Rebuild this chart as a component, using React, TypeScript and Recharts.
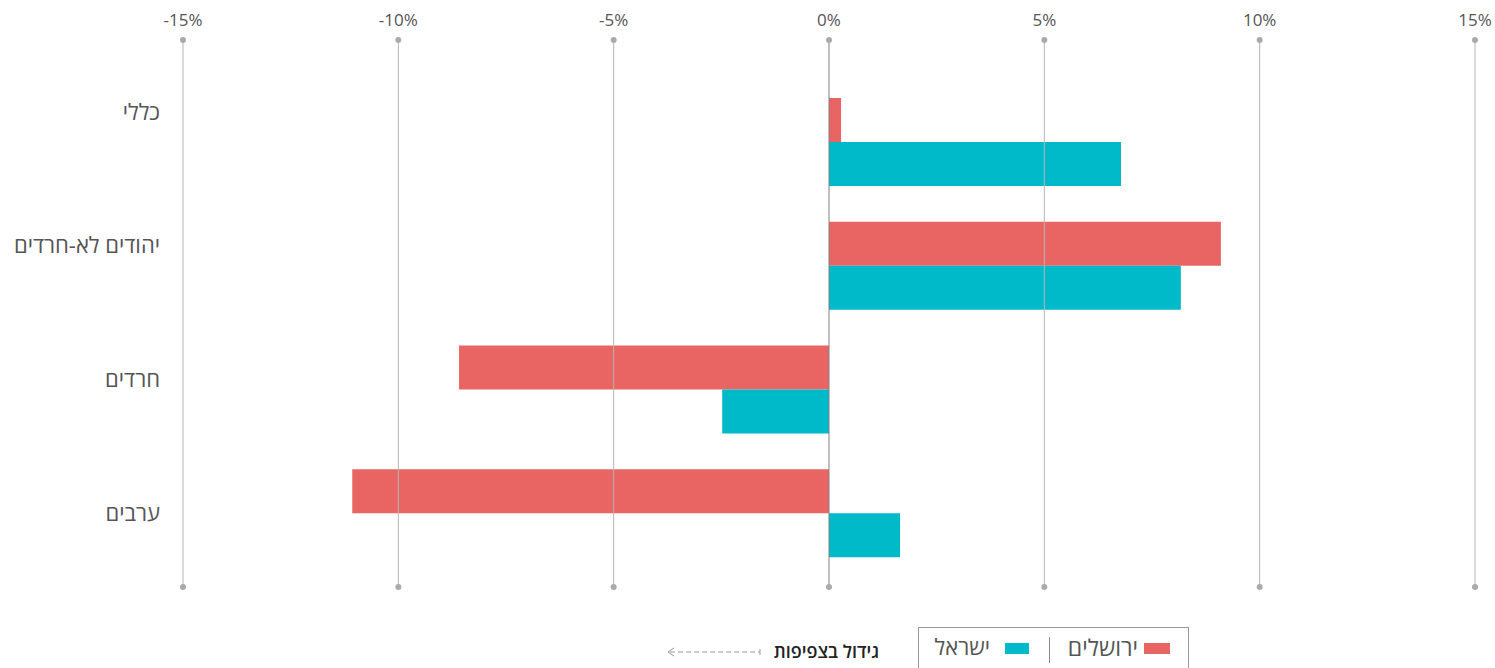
import React from 'react'
import { BarChart, Bar, XAxis, YAxis, ReferenceLine } from 'recharts'

const categories = ['כללי', 'יהודים לא-חרדים', 'חרדים', 'ערבים']
const jerusalem = [0.28, 9.1, -8.59, -11.07]
const israel = [6.78, 8.17, -2.48, 1.65]
const xTicks = [-15, -10, -5, 0, 5, 10, 15]

const RED = '#e86563'
const CYAN = '#00bac9'
const FONT = '"Open Sans", "Liberation Sans", "DejaVu Sans", sans-serif'

const data = categories.map((name, i) => ({
  name,
  jerusalem: jerusalem[i],
  israel: israel[i],
}))

const GridLine = (props: any) => {
  const { x1, y1, y2, stroke } = props
  return (
    <g>
      <line x1={x1} x2={x1} y1={y1} y2={y2} stroke={stroke} strokeWidth={1} />
      <circle cx={x1} cy={y1} r={3} fill="#aaa" />
      <circle cx={x1} cy={y2} r={3} fill="#aaa" />
    </g>
  )
}

export default function App() {
  return (
    <div style={{ position: 'absolute', left: 0, top: 0, width: 1495, height: 668, fontFamily: FONT }}>
      <BarChart
        width={1495}
        height={668}
        data={data}
        layout="vertical"
        margin={{ top: 0, right: 20, left: 13, bottom: 81 }}
        barCategoryGap={18}
        barGap={0}
      >
        <XAxis
          type="number"
          orientation="top"
          domain={[-15, 15]}
          ticks={xTicks}
          tickFormatter={(v) => `${v}%`}
          height={40}
          axisLine={false}
          tickLine={false}
          tickSize={0}
          tickMargin={14}
          tick={{ fontSize: 17, fill: '#555', fontFamily: FONT }}
        />
        <YAxis type="category" dataKey="name" hide width={0} padding={{ top: 40, bottom: 12 }} />
        <YAxis
          yAxisId="lab"
          type="category"
          dataKey="name"
          width={170}
          padding={{ top: 5, bottom: 7 }}
          axisLine={false}
          tickLine={false}
          tickSize={0}
          tickMargin={23}
          tick={{ fontSize: 22, fill: '#555', fontFamily: FONT }}
        />
        <Bar dataKey="jerusalem" fill={RED} isAnimationActive={false} />
        <Bar dataKey="israel" fill={CYAN} isAnimationActive={false} />
        {xTicks.map((t) => (
          <ReferenceLine
            key={t}
            x={t}
            stroke={t === 0 ? '#808080' : '#b5b5b5'}
            shape={GridLine}
          />
        ))}
      </BarChart>

      <div
        style={{
          position: 'absolute',
          left: 918,
          top: 627,
          width: 271,
          height: 60,
          border: '1px solid #999',
          boxSizing: 'border-box',
        }}
      >
        <div style={{ position: 'absolute', left: 225, top: 15, width: 26, height: 11, background: RED }} />
        <div
          style={{ position: 'absolute', right: 50, top: 3, fontSize: 23, color: '#555', direction: 'rtl', whiteSpace: 'nowrap' }}
        >
          ירושלים
        </div>
        <div style={{ position: 'absolute', left: 130, top: 9, width: 1, height: 26, background: '#888' }} />
        <div style={{ position: 'absolute', left: 86, top: 15, width: 24, height: 11, background: CYAN }} />
        <div
          style={{ position: 'absolute', right: 198, top: 3, fontSize: 22, color: '#555', direction: 'rtl', whiteSpace: 'nowrap' }}
        >
          ישראל
        </div>
      </div>

      <div
        style={{
          position: 'absolute',
          right: 1495 - 879,
          top: 639,
          fontSize: 18,
          fontWeight: 600,
          color: '#222',
          direction: 'rtl',
          whiteSpace: 'nowrap',
        }}
      >
        גידול בצפיפות
      </div>
      <svg style={{ position: 'absolute', left: 664, top: 645 }} width={100} height={14}>
        <line x1={6} x2={96} y1={7} y2={7} stroke="#999" strokeWidth={1} strokeDasharray="5 3" />
        <polyline points="10,3 4,7 10,11" fill="none" stroke="#999" strokeWidth={1} />
        <line x1={96} x2={96} y1={4} y2={10} stroke="#999" strokeWidth={1} />
      </svg>
    </div>
  )
}
